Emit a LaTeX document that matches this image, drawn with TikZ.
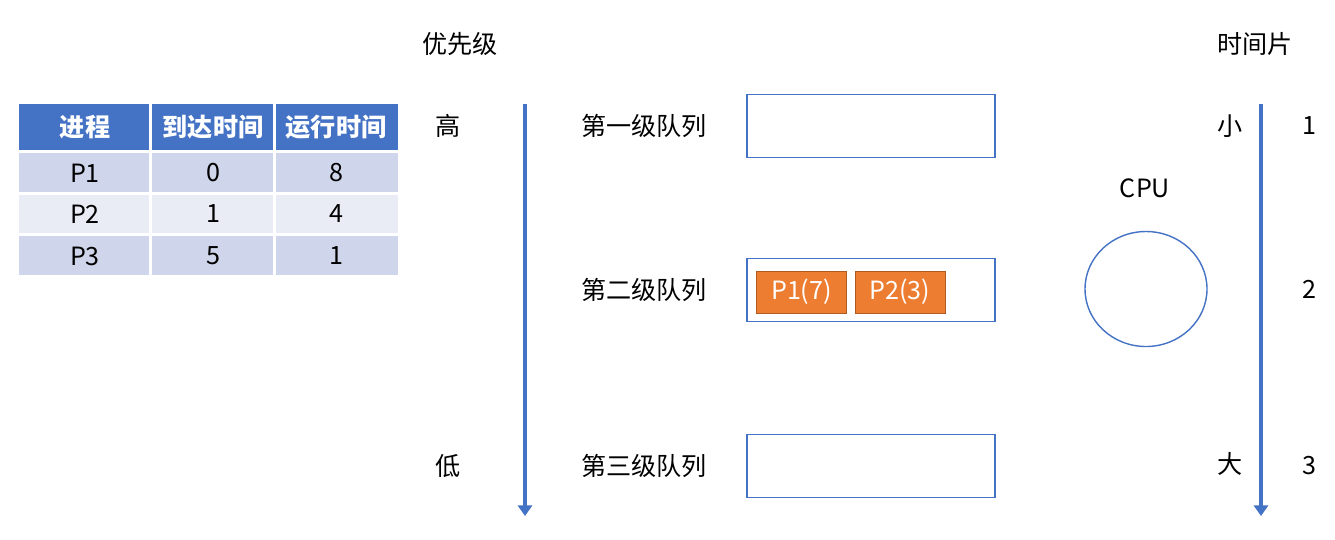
\documentclass[tikz,border=0pt]{standalone}
\usepackage{fontspec}
\setmainfont{Noto Sans CJK SC}
\usetikzlibrary{arrows.meta, shapes.geometric}
\begin{document}
\begin{tikzpicture}[x=0.02cm, y=-0.02cm, font=\fontsize{14.3}{16}\selectfont,
  cell/.style={minimum width=123*0.02cm, minimum height=40*0.02cm, inner sep=0pt, anchor=center},
  queuebox/.style={draw=qblue, line width=0.8pt, minimum width=248*0.02cm, minimum height=63*0.02cm, inner sep=0pt},
  procbox/.style={draw=procborder, fill=procfill, text=white, minimum width=90*0.02cm, minimum height=42*0.02cm, inner sep=0pt},
  axisarrow/.style={draw=qblue, line width=1.8pt, -{Triangle[width=8pt,length=6pt]}}]
% Define colors
\definecolor{qblue}{RGB}{68, 114, 196}
\definecolor{rowdark}{RGB}{207, 213, 234}
\definecolor{rowlight}{RGB}{233, 235, 245}
\definecolor{procfill}{RGB}{237, 125, 49}
\definecolor{procborder}{RGB}{174, 90, 33}

\useasboundingbox (0,0) rectangle (1335,539);

% Process table
\fill[qblue] (19,104) rectangle (398,151);
\fill[rowdark] (19,152) rectangle (398,193);
\fill[rowlight] (19,194) rectangle (398,234);
\fill[rowdark] (19,235) rectangle (398,275);
\draw[white, line width=1.2pt] (150.5,104) -- (150.5,275) (274.5,104) -- (274.5,275);
\draw[white, line width=1.2pt] (19,151.5) -- (398,151.5) (19,193.5) -- (398,193.5) (19,234.5) -- (398,234.5);
\node[cell, text=white, font=\fontsize{14.3}{16}\selectfont\bfseries] (hname) at (85,127) {进程};
\node[cell, text=white, font=\fontsize{14.3}{16}\selectfont\bfseries] (harrive) at (213,127) {到达时间};
\node[cell, text=white, font=\fontsize{14.3}{16}\selectfont\bfseries] (hrun) at (336,127) {运行时间};
\node[cell] (p1name) at (85,173) {P1};
\node[cell] (p1arrive) at (213,173) {0};
\node[cell] (p1run) at (336,173) {8};
\node[cell] (p2name) at (85,214) {P2};
\node[cell] (p2arrive) at (213,214) {1};
\node[cell] (p2run) at (336,214) {4};
\node[cell] (p3name) at (85,256) {P3};
\node[cell] (p3arrive) at (213,256) {5};
\node[cell] (p3run) at (336,256) {1};

% Priority axis
\node (priority) at (460,44) {优先级};
\node (high) at (448,126) {高};
\node (low) at (448,466) {低};
\coordinate (prioTop) at (525,104);
\coordinate (prioBot) at (525,516);
\draw[axisarrow] (prioTop) -- (prioBot);

% Queues
\node (q1label) at (644,126) {第一级队列};
\node (q2label) at (644,290) {第二级队列};
\node (q3label) at (644,466) {第三级队列};
\node[queuebox] (q1) at (871,126) {};
\node[queuebox] (q2) at (871,290) {};
\node[queuebox] (q3) at (871,466) {};
\node[procbox] (proc1) at (801.5,292) {P1(7)};
\node[procbox] (proc2) at (900,292) {P2(3)};

% CPU
\node (cpulabel) at (1145,188) {CPU};
\node[draw=qblue, line width=0.8pt, ellipse, minimum width=122*0.02cm, minimum height=115*0.02cm, inner sep=0pt] (cpu) at (1146,289) {};

% Time slice axis
\node (slice) at (1255,44) {时间片};
\node (small) at (1230,126) {小};
\node (big) at (1230,464) {大};
\coordinate (sliceTop) at (1261,104);
\coordinate (sliceBot) at (1261,516);
\draw[axisarrow] (sliceTop) -- (sliceBot);
\node (slice1) at (1309,126) {1};
\node (slice2) at (1309,289) {2};
\node (slice3) at (1309,466) {3};
\end{tikzpicture}
\end{document}
